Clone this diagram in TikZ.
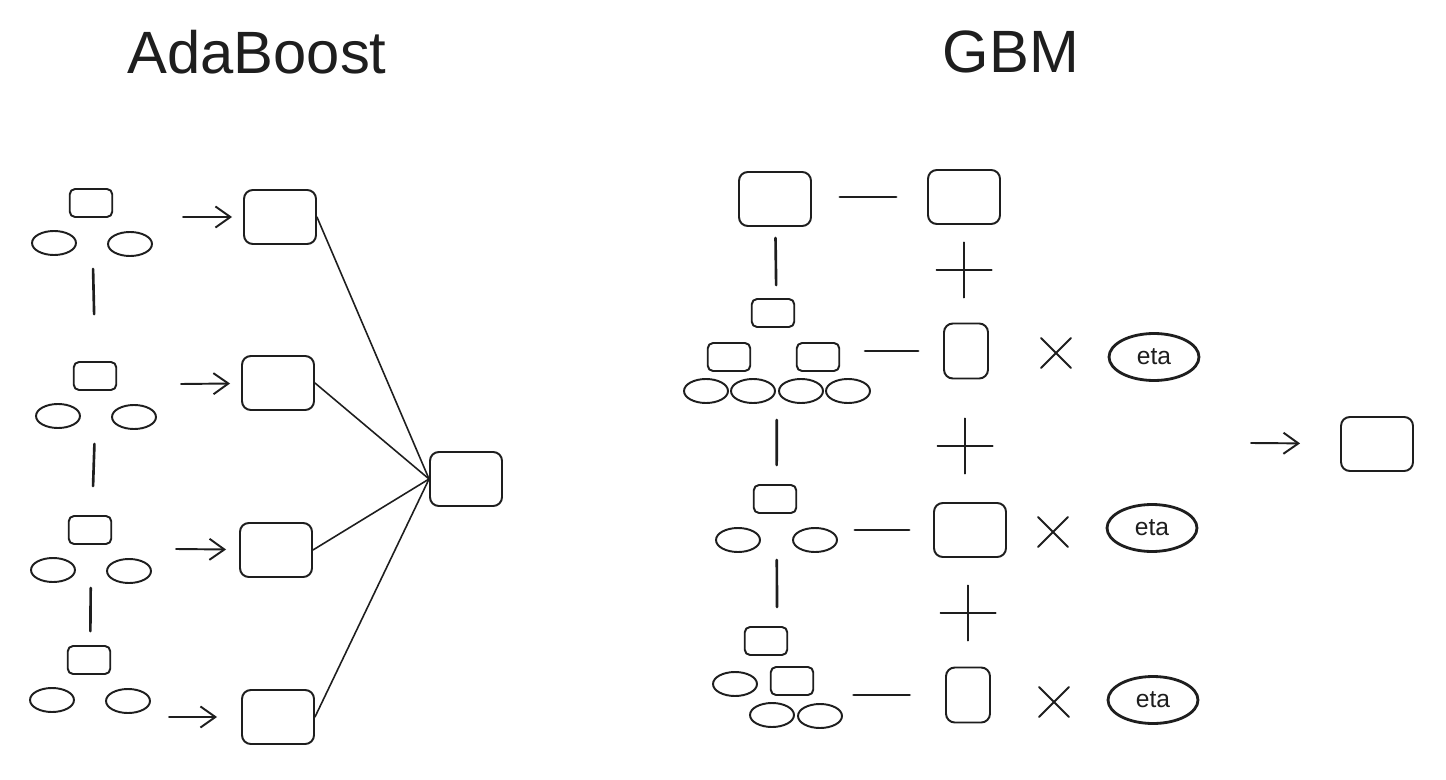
\documentclass[tikz,border=0pt]{standalone}
\usepackage{fontspec}
\setmainfont{Liberation Sans}
\usepackage{xcolor}
\usetikzlibrary{arrows.meta,fit,shapes.geometric,shapes.misc}
\definecolor{ink}{HTML}{1E1E1E}

\begin{document}
\begin{tikzpicture}[x=0.02cm,y=-0.02cm,color=ink,line width=1.1pt,line cap=round,line join=round,
  box/.style={draw,rounded corners=5pt,minimum width=1.44cm,minimum height=1.08cm,inner sep=0pt},
  tall/.style={box,minimum width=0.88cm,minimum height=1.1cm},
  leaf/.style={draw,rounded corners=3pt,minimum width=0.85cm,minimum height=0.56cm,inner sep=0pt},
  split/.style={draw,ellipse,minimum width=0.88cm,minimum height=0.48cm,inner sep=0pt},
  lr/.style={draw,ellipse,line width=1.6pt,minimum width=1.8cm,minimum height=0.94cm,inner sep=0pt,font=\fontsize{14}{16}\selectfont},
  plus/.style={draw,cross out,rotate=45,minimum size=0.74cm,inner sep=0pt},
  times/.style={draw,cross out,minimum size=0.56cm,inner sep=0pt},
  title/.style={font=\fontsize{34}{40}\selectfont},
  arr/.style={-{Straight Barb[length=8.5pt,width=12pt]}},
  link/.style={line width=1.5pt},
  op/.style={line width=1.7pt}]
\path[fill=white,use as bounding box] (0,0) rectangle (1446,780);

\node[title] (ada) at (257,52) {AdaBoost};
\node[title] (gbm) at (1011,52) {GBM};

% AdaBoost: stumps in sequence
\foreach \i/\x/\y in {1/91/203,2/95/376,3/90/530,4/89/660} {
  \node[leaf] (r\i) at (\x,\y) {};
  \node[split] (l\i) at (\x-37,\y+40) {};
  \node[split] (q\i) at (\x+39,\y+41) {};
  \node[fit=(r\i)(l\i)(q\i),inner sep=0pt] (tree\i) {};
}
\foreach \a/\b/\s/\e in {1/2/0.22/0.92,2/3/0.26/0.56,3/4/0.06/0.26}
  \draw[link,shorten <=\s cm,shorten >=\e cm] (tree\a) -- (tree\b);

\node[box] (b1) at (280,217) {};
\node[box] (b2) at (278,383) {};
\node[box] (b3) at (276,550) {};
\node[box] (b4) at (278,717) {};
\node[box] (ens) at (466,479) {};

\coordinate (s1) at (183,217);
\coordinate (s2) at (181,384);
\coordinate (s3) at (176,549);
\coordinate (s4) at (169,717);
\foreach \i/\g in {1/0.22,2/0.22,3/0.26,4/0.48} \draw[arr,shorten >=\g cm] (s\i) -- (b\i);
\foreach \i in {1,...,4} \draw[line width=0.9pt] (b\i.east) -- (ens.west);

% GBM: residual fitting
\node[box] (g0) at (775,199) {};
\node[box] (y0) at (964,197) {};
\draw[op,shorten <=0.56cm,shorten >=0.62cm] (g0.east |- y0.west) -- (y0.west);

\node[leaf] (ta) at (773,313) {};
\node[leaf] (tal) at (729,357) {};
\node[leaf] (tar) at (818,357) {};
\foreach \j/\x in {1/706,2/753,3/801,4/848} \node[split] (ea\j) at (\x,391) {};
\node[fit=(ta)(ea1)(ea4),inner sep=0pt] (treeA) {};

\node[leaf] (tb) at (775,499) {};
\node[split] (ebl) at (738,540) {};
\node[split] (ebr) at (815,540) {};
\node[fit=(tb)(ebl)(ebr),inner sep=0pt] (treeB) {};

\node[leaf] (tc) at (766,641) {};
\node[leaf] (tcr) at (792,681) {};
\node[split] (ecl) at (735,684) {};
\node[split] (ec1) at (772,715) {};
\node[split] (ec2) at (820,716) {};
\node[fit=(tc)(ecl)(ec2),inner sep=0pt] (treeC) {};

\draw[link,shorten <=0.22cm,shorten >=0.24cm] (g0) -- (treeA);
\draw[link,shorten <=0.3cm,shorten >=0.36cm] (treeA) -- (treeB);
\draw[link,shorten <=0.12cm,shorten >=0.36cm] (treeB) -- (treeC);

\node[tall] (h1) at (966,351) {};
\node[box] (h2) at (970,530) {};
\node[tall] (h3) at (968,695) {};
\draw[op,shorten <=0.5cm,shorten >=0.5cm] (tar.east |- h1.west) -- (h1.west);
\draw[op,shorten <=0.34cm,shorten >=0.48cm] (ebr.east |- h2.west) -- (h2.west);
\draw[op,shorten <=0.79cm,shorten >=0.71cm] (tcr.east |- h3.west) -- (h3.west);

\node[plus] (p1) at (964,270) {};
\node[plus] (p2) at (965,446) {};
\node[plus] (p3) at (968,613) {};

\node[times] (x1) at (1056,353) {};
\node[times] (x2) at (1053,532) {};
\node[times] (x3) at (1054,702) {};
\node[lr] (eta1) at (1154,357) {eta};
\node[lr] (eta2) at (1152,528) {eta};
\node[lr] (eta3) at (1153,700) {eta};

\coordinate (sum) at (1251,443);
\node[box] (fin) at (1377,444) {};
\draw[arr,shorten >=0.8cm] (sum) -- (fin);
\end{tikzpicture}
\end{document}
